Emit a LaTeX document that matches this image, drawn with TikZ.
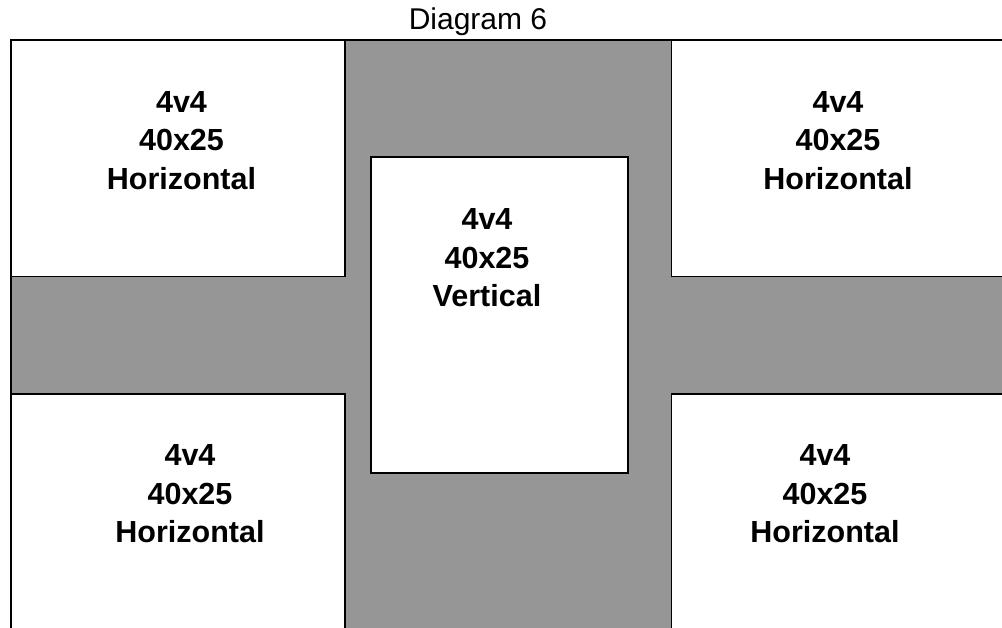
\documentclass[tikz,border=0pt]{standalone}
\usepackage{fontspec}
\setmainfont{Liberation Sans}
\definecolor{road}{RGB}{150,150,150}
\begin{document}
\begin{tikzpicture}[x=1pt,y=-1pt,
  plotbox/.style={draw=black,line width=1.6pt,fill=white},
  frameline/.style={draw=black,line width=1.6pt},
  lbl/.style={font=\fontsize{30.5}{36}\selectfont\bfseries,anchor=base,inner sep=0pt},
  ttl/.style={font=\fontsize{30}{36}\selectfont,anchor=base,inner sep=0pt}]
\useasboundingbox (0,0) rectangle (1002,628);
\clip (0,0) rectangle (1002,628);
% gray roads
\fill[road] (11,40) rectangle (1010,640);
% white plots
\draw[plotbox] (11,40) rectangle (345,276.5);
\draw[plotbox] (671.5,40) rectangle (1010,276.5);
\draw[plotbox] (11,394) rectangle (345,640);
\draw[plotbox] (671.5,394) rectangle (1010,640);
\draw[plotbox] (370.7,157) rectangle (628,472.7);
% outer frame
\draw[frameline] (11,640) -- (11,40) -- (1010,40);
% title
\node[ttl] (title) at (478,29.5) {Diagram 6};
% top-left
\node[lbl] (tla) at (181.5,112.3) {4v4};
\node[lbl] (tlb) at (181.5,151) {40x25};
\node[lbl] (tlc) at (181.5,190) {Horizontal};
% top-right
\node[lbl] (tra) at (838,112.3) {4v4};
\node[lbl] (trb) at (838,151) {40x25};
\node[lbl] (trc) at (838,190) {Horizontal};
% centre
\node[lbl] (ca) at (487,230) {4v4};
\node[lbl] (cb) at (487,268.5) {40x25};
\node[lbl] (cc) at (487,307) {Vertical};
% bottom-left
\node[lbl] (bla) at (190,465) {4v4};
\node[lbl] (blb) at (190,504) {40x25};
\node[lbl] (blc) at (190,542.5) {Horizontal};
% bottom-right
\node[lbl] (bra) at (825,465) {4v4};
\node[lbl] (brb) at (825,504) {40x25};
\node[lbl] (brc) at (825,542.5) {Horizontal};
\end{tikzpicture}
\end{document}
